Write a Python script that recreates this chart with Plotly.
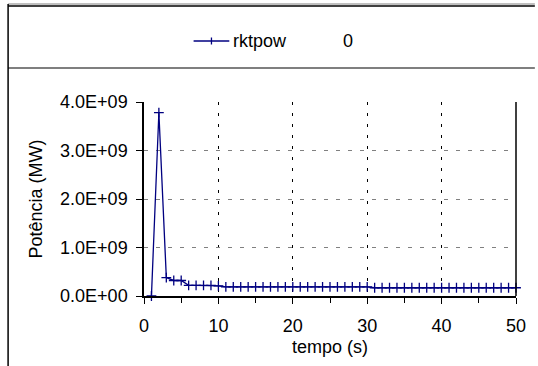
import plotly.graph_objects as go

# data
t = list(range(1, 51))
p_e9 = [0.0, 3.78, 0.38, 0.32, 0.32, 0.22, 0.22, 0.22, 0.22, 0.21,
        0.19, 0.19, 0.19, 0.19, 0.19, 0.19, 0.19, 0.19, 0.19, 0.19,
        0.19, 0.19, 0.19, 0.19, 0.19, 0.19, 0.19, 0.19, 0.19, 0.19,
        0.17, 0.17, 0.17, 0.17, 0.17, 0.17, 0.17, 0.17, 0.17, 0.17,
        0.17, 0.17, 0.17, 0.17, 0.17, 0.17, 0.17, 0.17, 0.17, 0.17]
power = [v * 1e9 for v in p_e9]
y_ticks = [0, 1e9, 2e9, 3e9, 4e9]
y_tick_text = ["0.0E+00", "1.0E+09", "2.0E+09", "3.0E+09", "4.0E+09"]
x_ticks = [0, 10, 20, 30, 40, 50]

NAVY = "#000080"
FONT = "Liberation Sans, Arial, sans-serif"
FS = 18

fig = go.Figure()
fig.add_trace(go.Scatter(
    x=t, y=power, mode="lines+markers", name="rktpow", cliponaxis=False,
    line=dict(color=NAVY, width=1.3),
    marker=dict(symbol="cross-thin-open", size=7, color=NAVY, line=dict(color=NAVY, width=1.3)),
    showlegend=False,
))

L, R, T, B = 144, 19, 102, 70
W, H = 538, 366
pw, ph = W - L - R, H - T - B

def px(x):
    return (x - L) / pw

def py(y):
    return (H - B - y) / ph

shapes = []
# frame lines
shapes.append(dict(type="line", xref="paper", yref="paper", x0=px(7), x1=px(538), y0=py(4), y1=py(4), line=dict(color="#808080", width=1)))
shapes.append(dict(type="line", xref="paper", yref="paper", x0=px(7), x1=px(538), y0=py(6), y1=py(6), line=dict(color="#000000", width=1.5)))
shapes.append(dict(type="line", xref="paper", yref="paper", x0=px(7), x1=px(7), y0=py(4), y1=py(366), line=dict(color="#000000", width=1.5)))
shapes.append(dict(type="line", xref="paper", yref="paper", x0=px(7), x1=px(538), y0=py(68), y1=py(68), line=dict(color="#000000", width=1.2)))
# legend sample
shapes.append(dict(type="line", xref="paper", yref="paper", x0=px(194), x1=px(230), y0=py(41), y1=py(41), line=dict(color=NAVY, width=1.3)))
shapes.append(dict(type="line", xref="paper", yref="paper", x0=px(212), x1=px(212), y0=py(37.5), y1=py(44.5), line=dict(color=NAVY, width=1.3)))

annotations = [
    dict(text="rktpow", xref="paper", yref="paper", x=px(232), y=py(41), xanchor="left", yanchor="middle",
         showarrow=False, font=dict(family=FONT, size=FS, color="#000")),
    dict(text="0", xref="paper", yref="paper", x=px(350), y=py(41), xanchor="center", yanchor="middle",
         showarrow=False, font=dict(family=FONT, size=FS, color="#000")),
]

fig.update_layout(
    width=W, height=H,
    margin=dict(l=L, r=R, t=T, b=B),
    paper_bgcolor="white", plot_bgcolor="white",
    font=dict(family=FONT, size=FS, color="#000"),
    shapes=shapes, annotations=annotations,
    xaxis=dict(
        range=[0, 50], tickvals=x_ticks, ticks="outside", ticklen=6, tickcolor="#000",
        ticklabelstandoff=7,
        showline=True, linecolor="#000", linewidth=1.5, mirror=False,
        showgrid=True, gridcolor="#000", griddash="3px,8px", gridwidth=1,
        zeroline=False,
        minor=dict(dtick=5, ticks="outside", ticklen=5, tickcolor="#000", showgrid=False),
        title=dict(text="tempo (s)", font=dict(size=FS), standoff=5),
    ),
    yaxis=dict(
        range=[0, 4e9], tickvals=y_ticks, ticktext=y_tick_text, ticks="outside", ticklen=6, tickcolor="#000",
        ticklabelstandoff=5,
        showline=True, linecolor="#000", linewidth=1.5,
        showgrid=True, gridcolor="#808080", griddash="4px,8px", gridwidth=1,
        zeroline=False,
        title=dict(text="Potência (MW)", font=dict(size=FS), standoff=13),
    ),
)
# right border of plot area
fig.add_shape(type="line", xref="paper", yref="paper", x0=1, x1=1, y0=0, y1=1, line=dict(color="#000", width=1.5))

fig.write_html("out.html")
